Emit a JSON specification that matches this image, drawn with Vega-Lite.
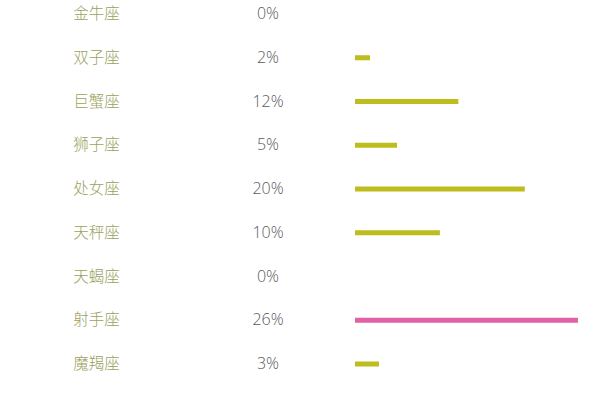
{
  "$schema": "https://vega.github.io/schema/vega-lite/v6.json",
  "padding": 0,
  "spacing": 0,
  "bounds": "flush",
  "background": "white",
  "config": {"view": {"stroke": null}, "concat": {"spacing": 0}},
  "data": {"values": [
    {"name": "金牛座", "label": "0%", "value": 0},
    {"name": "双子座", "label": "2%", "value": 1.75},
    {"name": "巨蟹座", "label": "12%", "value": 12.05},
    {"name": "狮子座", "label": "5%", "value": 4.9},
    {"name": "处女座", "label": "20%", "value": 19.8},
    {"name": "天秤座", "label": "10%", "value": 9.9},
    {"name": "天蝎座", "label": "0%", "value": 0},
    {"name": "射手座", "label": "26%", "value": 26},
    {"name": "魔羯座", "label": "3%", "value": 2.8}
  ]},
  "hconcat": [
    {
      "width": 193,
      "height": 378,
      "mark": {"type": "text", "align": "center", "baseline": "middle", "font": "Noto Sans CJK SC", "fontSize": 15.5, "fontWeight": 300, "color": "#9aa25e"},
      "encoding": {
        "y": {"field": "name", "type": "nominal", "sort": null, "scale": {"type": "point", "padding": 0.32}, "axis": null},
        "text": {"field": "name"}
      }
    },
    {
      "width": 150,
      "height": 378,
      "mark": {"type": "text", "align": "center", "baseline": "middle", "font": "Open Sans", "fontSize": 16, "fontWeight": 300, "color": "#5a5a5a"},
      "encoding": {
        "y": {"field": "name", "type": "nominal", "sort": null, "scale": {"type": "point", "padding": 0.32}, "axis": null},
        "text": {"field": "label"}
      }
    },
    {
      "width": 257,
      "height": 378,
      "mark": {"type": "bar", "size": 5},
      "encoding": {
        "y": {"field": "name", "type": "nominal", "sort": null, "scale": {"type": "point", "padding": 0.32}, "axis": null},
        "x": {"field": "value", "type": "quantitative", "scale": {"domain": [-1.4, 28.57], "nice": false, "zero": false}, "axis": null},
        "x2": {"datum": 0},
        "color": {"condition": {"test": "datum.name === '射手座'", "value": "#e260a5"}, "value": "#bdbd1d"}
      }
    }
  ]
}
